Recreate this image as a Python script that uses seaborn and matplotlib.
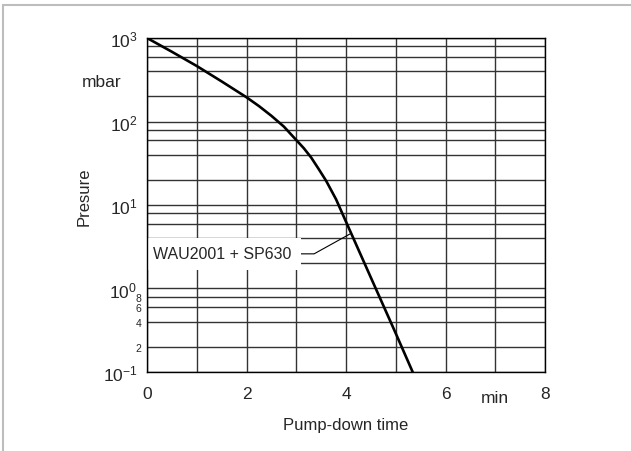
import matplotlib
matplotlib.use('Agg')
import matplotlib.pyplot as plt
import matplotlib.ticker as mticker
from matplotlib.lines import Line2D
import seaborn as sns
import pandas as pd

# Werte
time_min = [0, 0.5, 1, 1.5, 2, 2.25, 2.5, 2.75, 3, 3.15, 3.3, 3.45, 3.6, 3.8, 4, 4.5, 5, 5.34]
pressure_mbar = [1000, 684, 462, 302, 195, 153, 117, 87, 60, 48, 37, 27, 19.5, 11.7, 6.3, 1.35, 0.29, 0.1]
curve_label = 'WAU2001 + SP630'

x_major = [0, 2, 4, 6, 8]
x_minor = [1, 3, 5, 7]
y_major = [0.1, 1, 10, 100, 1000]
y_major_labels = [r'$\mathregular{10^{-1}}$', r'$\mathregular{10^{0}}$', r'$\mathregular{10^{1}}$',
                  r'$\mathregular{10^{2}}$', r'$\mathregular{10^{3}}$']
y_minor = [m * d for d in [0.1, 1, 10, 100] for m in [2, 4, 6, 8]]
y_minor_labels = {0.2: '2', 0.4: '4', 0.6: '6', 0.8: '8'}

df = pd.DataFrame({'t': time_min, 'p': pressure_mbar})

sns.set_style('white')
plt.rcParams['font.family'] = ['Liberation Sans', 'DejaVu Sans']
plt.rcParams['mathtext.fontset'] = 'custom'
plt.rcParams['mathtext.rm'] = 'Liberation Sans'

fig = plt.figure(figsize=(6.31, 4.52), dpi=100)
ax = fig.add_axes([0.233, 0.1748, 0.6307, 0.7389])

sns.lineplot(data=df, x='t', y='p', color='black', linewidth=1.9, ax=ax)
ax.set_yscale('log')
ax.set_xlim(0, 8)
ax.set_ylim(0.1, 1000)

ax.set_xticks(x_major)
ax.set_xticks(x_minor, minor=True)
ax.set_xticklabels([str(v) for v in x_major])
ax.set_yticks(y_major)
ax.set_yticklabels(y_major_labels)
ax.yaxis.set_minor_locator(mticker.FixedLocator(y_minor))
ax.yaxis.set_minor_formatter(mticker.FuncFormatter(
    lambda v, pos: next((s for k, s in y_minor_labels.items() if abs(v - k) < 1e-9), '')))

ax.tick_params(which='both', length=0)
ax.tick_params(which='major', labelsize=12.5)
ax.tick_params(axis='x', which='major', pad=10)
ax.tick_params(axis='y', which='major', pad=7)
ax.tick_params(axis='y', which='minor', labelsize=7.5, pad=4)
ax.grid(True, which='both', color='0.2', linewidth=1.0)

for s in ax.spines.values():
    s.set_color('black')
    s.set_linewidth(1.0)
    s.set_zorder(5)

ax.set_xlabel('Pump-down time', fontsize=12)
ax.set_ylabel('Presure', fontsize=12)
ax.xaxis.set_label_coords(0.5, -0.135)
ax.yaxis.set_label_coords(-0.138, 0.527)

ax.text(-0.113, 0.871, 'mbar', transform=ax.transAxes, ha='center', va='center', fontsize=12.5)
ax.text(7.0, -0.075, 'min', transform=ax.get_xaxis_transform(), ha='center', va='center', fontsize=12.5)

ax.annotate(curve_label, xy=(4.08, 4.5), xytext=(1.52, 2.6), fontsize=11.5,
            ha='center', va='center',
            bbox=dict(boxstyle='square,pad=0.55', fc='white', ec='none'),
            arrowprops=dict(arrowstyle='-', color='black', lw=0.8, shrinkA=0, shrinkB=0,
                            connectionstyle='angle,angleA=0,angleB=29,rad=0'))

# heller Rahmen links und oben
fig.add_artist(Line2D([3 / 631, 3 / 631], [0, 1 - 6 / 452], color='#bdbdbd', lw=1.5))
fig.add_artist(Line2D([3 / 631, 1], [1 - 6 / 452, 1 - 6 / 452], color='#bdbdbd', lw=1.5))

plt.savefig('out.png', dpi=100)
